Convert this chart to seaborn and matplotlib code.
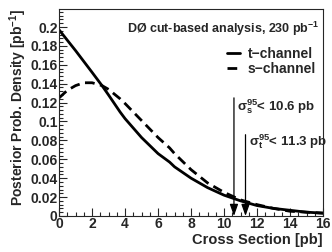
import numpy as np
import pandas as pd
import matplotlib
matplotlib.use("Agg")
import matplotlib.pyplot as plt
from matplotlib.ticker import MultipleLocator
import seaborn as sns

# values
xsec_t = [0, 1, 2, 2.6, 3, 3.7, 4, 5, 6, 6.7, 7, 8, 9, 10, 11, 12, 13, 14, 15, 16]
post_t = [0.197, 0.175, 0.152, 0.138, 0.128, 0.110, 0.103, 0.083, 0.066, 0.057,
          0.052, 0.040, 0.030, 0.022, 0.016, 0.011, 0.008, 0.006, 0.004, 0.003]
xsec_s = [0, 0.5, 1, 1.5, 2, 2.6, 3, 3.7, 4, 5, 6, 6.7, 7, 8, 9, 10, 11, 12, 13, 14, 15, 16]
post_s = [0.125, 0.133, 0.138, 0.141, 0.141, 0.138, 0.134, 0.124, 0.119, 0.101,
          0.083, 0.072, 0.066, 0.049, 0.035, 0.025, 0.017, 0.012, 0.008, 0.005, 0.004, 0.003]
limit_s = 10.6
limit_t = 11.3
ytick_vals = [0, 0.02, 0.04, 0.06, 0.08, 0.1, 0.12, 0.14, 0.16, 0.18, 0.2]
ytick_text = ["0", "0.02", "0.04", "0.06", "0.08", "0.1", "0.12", "0.14", "0.16", "0.18", "0.2"]

sns.set_style("ticks")
plt.rcParams["font.family"] = ["Liberation Sans", "DejaVu Sans"]
plt.rcParams["font.weight"] = "bold"
plt.rcParams["mathtext.fontset"] = "custom"
plt.rcParams["mathtext.rm"] = "Liberation Sans"
plt.rcParams["mathtext.it"] = "Liberation Sans"
plt.rcParams["mathtext.bf"] = "Liberation Sans:bold"
plt.rcParams["mathtext.default"] = "regular"

df_t = pd.DataFrame({"x": xsec_t, "y": post_t})
df_s = pd.DataFrame({"x": xsec_s, "y": post_s})

fig = plt.figure(figsize=(3.32, 2.52), dpi=100)
ax = fig.add_axes([0.178, 0.143, 0.795, 0.821])

sns.lineplot(data=df_t, x="x", y="y", ax=ax, color="black", lw=2.0, label="t\u2212channel")
sns.lineplot(data=df_s, x="x", y="y", ax=ax, color="black", lw=2.0,
             dashes=(3.5, 2.0), label="s\u2212channel")

ax.set_xlim(0, 16)
ax.set_ylim(0, 0.219)
ax.xaxis.set_major_locator(MultipleLocator(2))
ax.xaxis.set_minor_locator(MultipleLocator(0.5))
ax.set_yticks(ytick_vals)
ax.set_yticklabels(ytick_text)
ax.yaxis.set_minor_locator(MultipleLocator(0.004))
ax.tick_params(which="both", direction="in", top=False, right=False,
               labelsize=10, width=0.8, pad=1)
ax.tick_params(which="major", length=6)
ax.tick_params(which="minor", length=3)
for lab in ax.get_xticklabels() + ax.get_yticklabels():
    lab.set_fontweight("bold")
for sp in ax.spines.values():
    sp.set_linewidth(0.8)

ax.set_xlabel("Cross Section [pb]", fontsize=10.5, fontweight="bold", labelpad=0)
ax.xaxis.set_label_coords(1.0, -0.08)
ax.xaxis.label.set_horizontalalignment("right")
ax.set_ylabel(r"Posterior Prob. Density [pb$^{-1}$]", fontsize=10, fontweight="bold", labelpad=2)
ax.yaxis.set_label_coords(-0.195, 1.0)
ax.yaxis.label.set_verticalalignment("top")
ax.yaxis.label.set_horizontalalignment("right")

ax.text(0.985, 0.905, r"DØ cut-based analysis, 230 pb$^{-1}$", transform=ax.transAxes,
        fontsize=9, fontweight="bold", ha="right", va="center")

leg = ax.legend(loc="upper right", bbox_to_anchor=(1.0, 0.85), frameon=False,
                handlelength=0.9, handletextpad=0.6, labelspacing=0.05,
                fontsize=10, borderaxespad=0.1)
for t in leg.get_texts():
    t.set_fontweight("bold")

arrow = dict(arrowstyle="-|>,head_length=0.7,head_width=0.25", color="black",
             lw=0.9, shrinkA=0, shrinkB=0)
ax.annotate("", xy=(limit_s, 0), xytext=(limit_s, 0.125), arrowprops=arrow)
ax.annotate("", xy=(limit_t, 0), xytext=(limit_t, 0.086), arrowprops=arrow)
ax.text(limit_s + 0.2, 0.116, r"$\sigma_{s}^{95}$< 10.6 pb", fontsize=9.5,
        fontweight="bold", ha="left", va="center")
ax.text(limit_t + 0.2, 0.079, r"$\sigma_{t}^{95}$< 11.3 pb", fontsize=9.5,
        fontweight="bold", ha="left", va="center")

fig.savefig("out.png", dpi=100)
